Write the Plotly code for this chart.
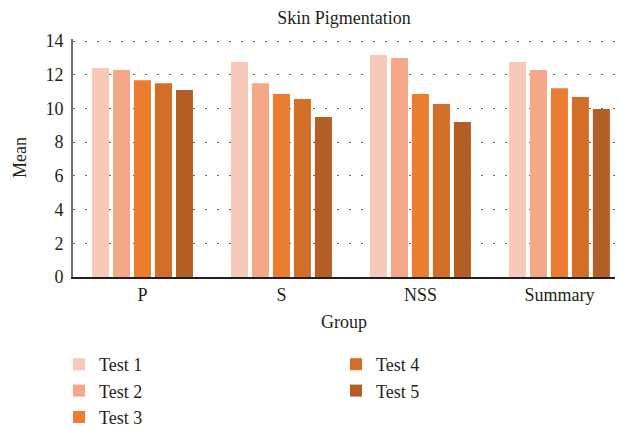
import plotly.graph_objects as go

groups = ["P", "S", "NSS", "Summary"]
series_names = ["Test 1", "Test 2", "Test 3", "Test 4", "Test 5"]
test1 = [12.4, 12.75, 13.17, 12.75]
test2 = [12.28, 11.5, 12.99, 12.28]
test3 = [11.68, 10.85, 10.85, 11.2]
test4 = [11.5, 10.56, 10.26, 10.68]
test5 = [11.1, 9.49, 9.19, 9.96]
values = [test1, test2, test3, test4, test5]
colors = ["#F7C9B8", "#F4A888", "#EC7C30", "#D26E27", "#B35E25"]
legend_ids = ["legend", "legend", "legend", "legend2", "legend2"]

FONT = "Liberation Serif"

fig = go.Figure()
for name, vals, col, lg in zip(series_names, values, colors, legend_ids):
    fig.add_trace(go.Bar(
        x=groups, y=vals, name=name, marker=dict(color=col, line=dict(width=0)),
        legend=lg,
    ))

fig.update_layout(
    width=618, height=429,
    margin=dict(l=73, r=3, t=39, b=152, autoexpand=False),
    paper_bgcolor="white", plot_bgcolor="white",
    font=dict(family=FONT, size=16, color="#231F20"),
    title=dict(text="Skin Pigmentation", x=0.5, xref="paper", xanchor="center",
               y=1 - 18 / 429, yanchor="middle", font=dict(size=18, family=FONT)),
    barmode="group", bargap=0.245, bargroupgap=0.19,
    legend=dict(xref="container", yref="container", x=59 / 618, xanchor="left",
                y=1 - 346 / 429, yanchor="top",
                orientation="v", font=dict(size=18, family=FONT),
                bgcolor="rgba(0,0,0,0)"),
    legend2=dict(xref="container", yref="container", x=336 / 618, xanchor="left",
                 y=1 - 346 / 429, yanchor="top",
                 orientation="v", font=dict(size=18, family=FONT),
                 bgcolor="rgba(0,0,0,0)"),
    annotations=[dict(text="Mean", xref="paper", yref="paper", x=-53 / 542, y=0.5,
                      xanchor="center", yanchor="middle", textangle=-90,
                      showarrow=False, font=dict(size=18, family=FONT))],
)
fig.update_xaxes(
    range=[-0.5, 3.4], showline=True, linecolor="#231F20", linewidth=2,
    showgrid=False, ticks="", tickfont=dict(size=18, family=FONT),
    title=dict(text="Group", font=dict(size=18, family=FONT), standoff=12),
)
fig.update_yaxes(
    range=[0, 14.12], tickvals=[0, 2, 4, 6, 8, 10, 12, 14], showline=True,
    linecolor="#6D6E71", linewidth=2, ticklabelstandoff=4,
    showgrid=True, gridcolor="#666666", gridwidth=1.2, griddash="2px,10px",
    zeroline=False, ticks="", tickfont=dict(size=18, family=FONT),
)
fig.write_html("out.html", config={"displayModeBar": False},
               post_script="document.body.style.margin='0';")
